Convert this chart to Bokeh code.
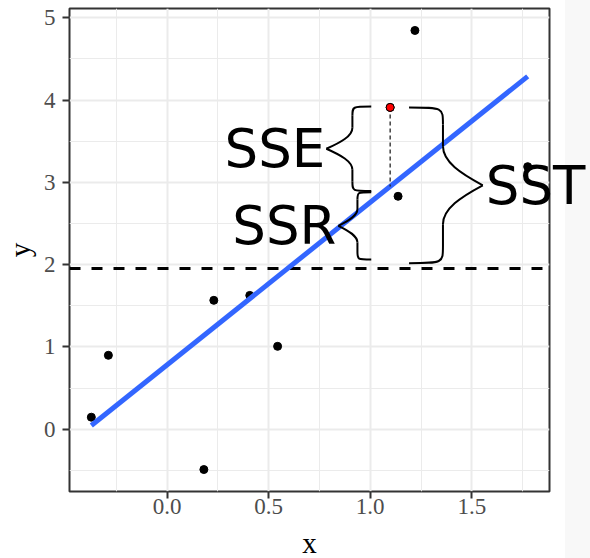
import numpy as np
from bokeh.plotting import figure
from bokeh.models import Range1d, FixedTicker, Label
from bokeh.embed import file_html
from bokeh.resources import INLINE

# ---- data ----
x = [-0.373, -0.289, 0.181, 0.230, 0.407, 0.544, 1.098, 1.137, 1.220, 1.775]
y = [0.146, 0.898, -0.490, 1.566, 1.626, 1.007, 3.910, 2.830, 4.845, 3.190]
highlight_index = 6          # the red point
x_major = [0.0, 0.5, 1.0, 1.5]
x_minor = [-0.25, 0.25, 0.75, 1.25, 1.75]
y_major = [0, 1, 2, 3, 4, 5]
y_minor = [-0.5, 0.5, 1.5, 2.5, 3.5, 4.5]
x_tick_labels = ["0.0", "0.5", "1.0", "1.5"]
y_tick_labels = ["0", "1", "2", "3", "4", "5"]
x_title, y_title = "x", "y"
brace_labels = ["SSE", "SSR", "SST"]

# ---- derived statistics ----
xa, ya = np.array(x), np.array(y)
slope, intercept = np.polyfit(xa, ya, 1)
ybar = ya.mean()
xr, yr = x[highlight_index], y[highlight_index]
yhat_r = intercept + slope * xr

def expand(lo, hi, f=0.05):
    w = hi - lo
    return lo - f * w, hi + f * w

x0r, x1r = expand(min(x), max(x))
y0r, y1r = expand(min(y), max(y))

FW, FH = 480, 483
p = figure(frame_width=FW, frame_height=FH,
           min_border_left=69, min_border_right=41, min_border_top=8, min_border_bottom=67,
           x_range=Range1d(x0r, x1r), y_range=Range1d(y0r, y1r),
           output_backend="svg", toolbar_location=None,
           background_fill_color="white", border_fill_color=None,
           styles={"background": "linear-gradient(90deg, #ffffff 565px, #f8f8f8 565px)"})

p.outline_line_color = "#333333"
p.outline_line_width = 2

p.xaxis.ticker = FixedTicker(ticks=x_major, minor_ticks=x_minor)
p.yaxis.ticker = FixedTicker(ticks=y_major, minor_ticks=y_minor)
p.xaxis.major_label_overrides = dict(zip(x_major, x_tick_labels))
p.yaxis.major_label_overrides = dict(zip(y_major, y_tick_labels))
p.xgrid.ticker = p.xaxis.ticker
p.ygrid.ticker = p.yaxis.ticker
for g in (p.xgrid, p.ygrid):
    g.grid_line_color = "#EBEBEB"
    g.grid_line_width = 2
    g.minor_grid_line_color = "#EBEBEB"
    g.minor_grid_line_width = 1

p.axis.axis_line_color = None
p.axis.major_tick_out = 7
p.axis.major_tick_in = 0
p.axis.minor_tick_out = 0
p.axis.minor_tick_in = 0
p.axis.major_tick_line_color = "#333333"
p.axis.major_tick_line_width = 2
p.axis.major_label_text_font = "Liberation Serif"
p.axis.major_label_text_font_size = "23px"
p.axis.major_label_text_color = "#4D4D4D"
p.axis.axis_label_text_font = "Liberation Serif"
p.axis.axis_label_text_font_size = "29px"
p.axis.axis_label_text_font_style = "normal"
p.axis.axis_label_text_color = "black"
p.xaxis.axis_label = x_title
p.xaxis.major_label_standoff = 0
p.yaxis.major_label_standoff = 7
p.xaxis.axis_label_standoff = 10

# y title as a rotated label in the left panel
px_per_x = FW / (x1r - x0r)
p.add_layout(Label(x=x0r - (69 - 19) / px_per_x, y=(y0r + y1r) / 2, text=y_title,
                   angle=np.pi / 2, text_align="center", text_baseline="alphabetic",
                   text_font="Liberation Serif", text_font_size="29px",
                   text_color="black"), "left")

# data points
p.scatter(x, y, size=8, color="black")

# mean line
p.segment(x0=[x0r], y0=[ybar], x1=[x1r], y1=[ybar],
          line_color="black", line_width=3, line_dash="11 11")

# regression line
xs_fit = [min(x), max(x)]
p.line(xs_fit, [intercept + slope * v for v in xs_fit],
       line_color="#3366FF", line_width=5)

# residual segment and highlighted point
p.segment(x0=[xr], y0=[yr], x1=[xr], y1=[yhat_r],
          line_color="#222222", line_width=1.3, line_dash="4 3")
p.scatter([xr], [yr], size=8, fill_color="red", line_color="black", line_width=1)

# braces
def brace(x_end, x_tip, ylo, yhi, f=0.42):
    xs = x_end + f * (x_tip - x_end)
    ym = (ylo + yhi) / 2
    segs = []
    for ye in (yhi, ylo):
        ya_ = ye + 0.22 * (ym - ye)
        yb_ = ye + 0.5 * (ym - ye)
        segs.append((x_end, ye, xs, ya_, xs, ye, xs, ye))
        segs.append((xs, ya_, xs, yb_, xs, ya_, xs, yb_))
        segs.append((xs, yb_, x_tip, ym,
                     xs, yb_ + 0.4 * (ym - yb_),
                     xs + 0.45 * (x_tip - xs), ym - 0.3 * (ym - yb_)))
    return segs

dxb = 0.093
braces = [
    brace(xr - dxb, xr - 0.314, yhat_r - 0.055, yr + 0.01),   # SSE
    brace(xr - dxb, xr - 0.255, ybar + 0.11, yhat_r - 0.07),  # SSR
    brace(xr + dxb, xr + 0.456, ybar + 0.065, yr, f=0.46),    # SST
]
segs = [s for b in braces for s in b]
cols = list(zip(*segs))
p.bezier(x0=list(cols[0]), y0=list(cols[1]), x1=list(cols[2]), y1=list(cols[3]),
         cx0=list(cols[4]), cy0=list(cols[5]), cx1=list(cols[6]), cy1=list(cols[7]),
         line_color="black", line_width=2)

# brace labels
tips = [(xr - 0.314, (yhat_r - 0.055 + yr + 0.01) / 2, "right", -1, "center"),
        (xr - 0.255, (ybar + 0.11 + yhat_r - 0.07) / 2, "right", -2, "center"),
        (xr + 0.456, (ybar + 0.065 + yr) / 2, "left", 3, "right")]
for text, (tx, ty, al, off, where) in zip(brace_labels, tips):
    p.add_layout(Label(x=tx, y=ty, text=text, text_align=al, text_baseline="middle",
                       x_offset=off, text_font="DejaVu Sans", text_font_size="53px",
                       text_color="black"), where)

open("out.html", "w").write(file_html(p, INLINE))
